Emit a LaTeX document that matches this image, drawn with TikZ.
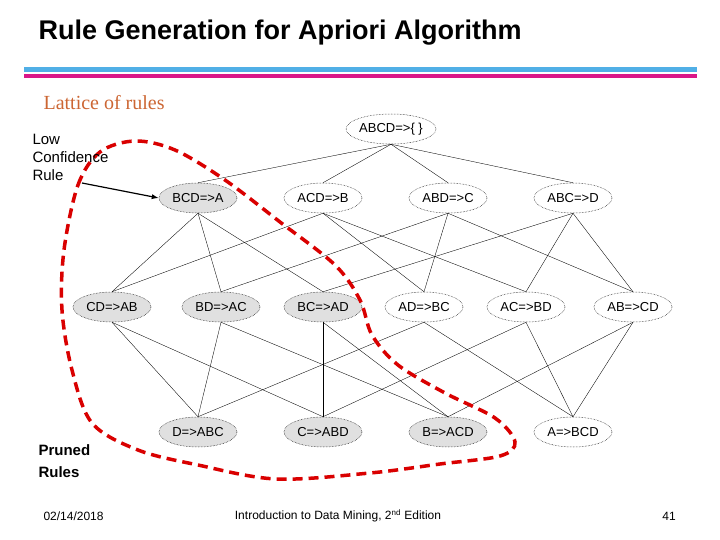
\documentclass[tikz,border=0pt]{standalone}
\usepackage{fontspec}
\setmainfont{Liberation Sans}
\newfontfamily\serifx{Liberation Serif}
\usetikzlibrary{shapes.geometric,arrows.meta}
\begin{document}
\begin{tikzpicture}[x=1pt,y=-1pt,
  rl/.style={ellipse,draw,densely dotted,line width=0.5pt,minimum width=78pt,minimum height=30pt,inner sep=0pt,font=\fontsize{13}{13}\selectfont},
  gr/.style={rl,fill=black!12},
  ed/.style={line width=0.35pt}]
\useasboundingbox (0,0) rectangle (720,540);
\node[anchor=west,font=\bfseries\fontsize{27}{27}\selectfont] (title) at (35,33) {Rule Generation for Apriori Algorithm};
\fill[cyan!80!blue!70] (24,67) rectangle (697,72);
\fill[magenta!80!violet] (24,74) rectangle (697,78);
\node[anchor=west,font=\serifx\fontsize{20}{20}\selectfont,text=brown!80!red] (lat) at (40,103) {Lattice of rules};
\node (t) [rl] at (391,129) {ABCD=>\{ \}};
\node (bcd) [gr] at (198,198) {BCD=>A};
\node (acd) [rl] at (323,198) {ACD=>B};
\node (abd) [rl] at (448,198) {ABD=>C};
\node (abc) [rl] at (573,198) {ABC=>D};
\node (cd) [gr] at (112,307) {CD=>AB};
\node (bd) [gr] at (221,307) {BD=>AC};
\node (bc) [gr] at (323,307) {BC=>AD};
\node (ad) [rl] at (424,307) {AD=>BC};
\node (ac) [rl] at (526,307) {AC=>BD};
\node (ab) [rl] at (633,307) {AB=>CD};
\node (d) [gr] at (198,432) {D=>ABC};
\node (c) [gr] at (323,432) {C=>ABD};
\node (b) [gr] at (448,432) {B=>ACD};
\node (a) [rl] at (573,432) {A=>BCD};
\foreach \u in {bcd,acd,abd,abc} \draw[ed] (t.south) -- (\u.north);
\foreach \u/\v in {cd/bcd,cd/acd,bd/bcd,bd/abd,bc/bcd,bc/abc,ad/acd,ad/abd,ac/acd,ac/abc,ab/abd,ab/abc,
  d/cd,d/bd,d/ad,c/cd,c/bc,c/ac,b/bd,b/bc,b/ab,a/ad,a/ac,a/ab}
  \draw[ed] (\u.north) -- (\v.south);
\draw[red!85!black,line width=3.5pt,dash pattern=on 10pt off 6pt] plot[smooth cycle,tension=0.55] coordinates {
 (64,250) (78,185) (100,152) (135,141) (175,150) (225,180) (280,222) (335,265) (360,300) (372,335) (398,365) (445,393) (495,418) (515,442) (500,456) (440,464) (370,473) (276,479) (198,465) (138,450) (92,423) (72,370) (62,310)};
\node[anchor=north west,align=left,font=\fontsize{15}{18}\selectfont] (low) at (29,131) {Low\\Confidence\\Rule};
\coordinate (lowend) at (82,183);
\draw[-{Latex[length=7pt]},line width=1.2pt] (lowend) -- (bcd.west);
\node[anchor=north west,align=left,font=\bfseries\fontsize{15}{22}\selectfont] (pr) at (35,441) {Pruned\\Rules};
\node[anchor=west,font=\fontsize{12}{12}\selectfont] (date) at (40,516) {02/14/2018};
\node[font=\fontsize{12}{12}\selectfont] (book) at (338,516) {Introduction to Data Mining, 2\textsuperscript{nd} Edition};
\node[font=\fontsize{12}{12}\selectfont] (pg) at (669,516) {41};
\end{tikzpicture}
\end{document}
